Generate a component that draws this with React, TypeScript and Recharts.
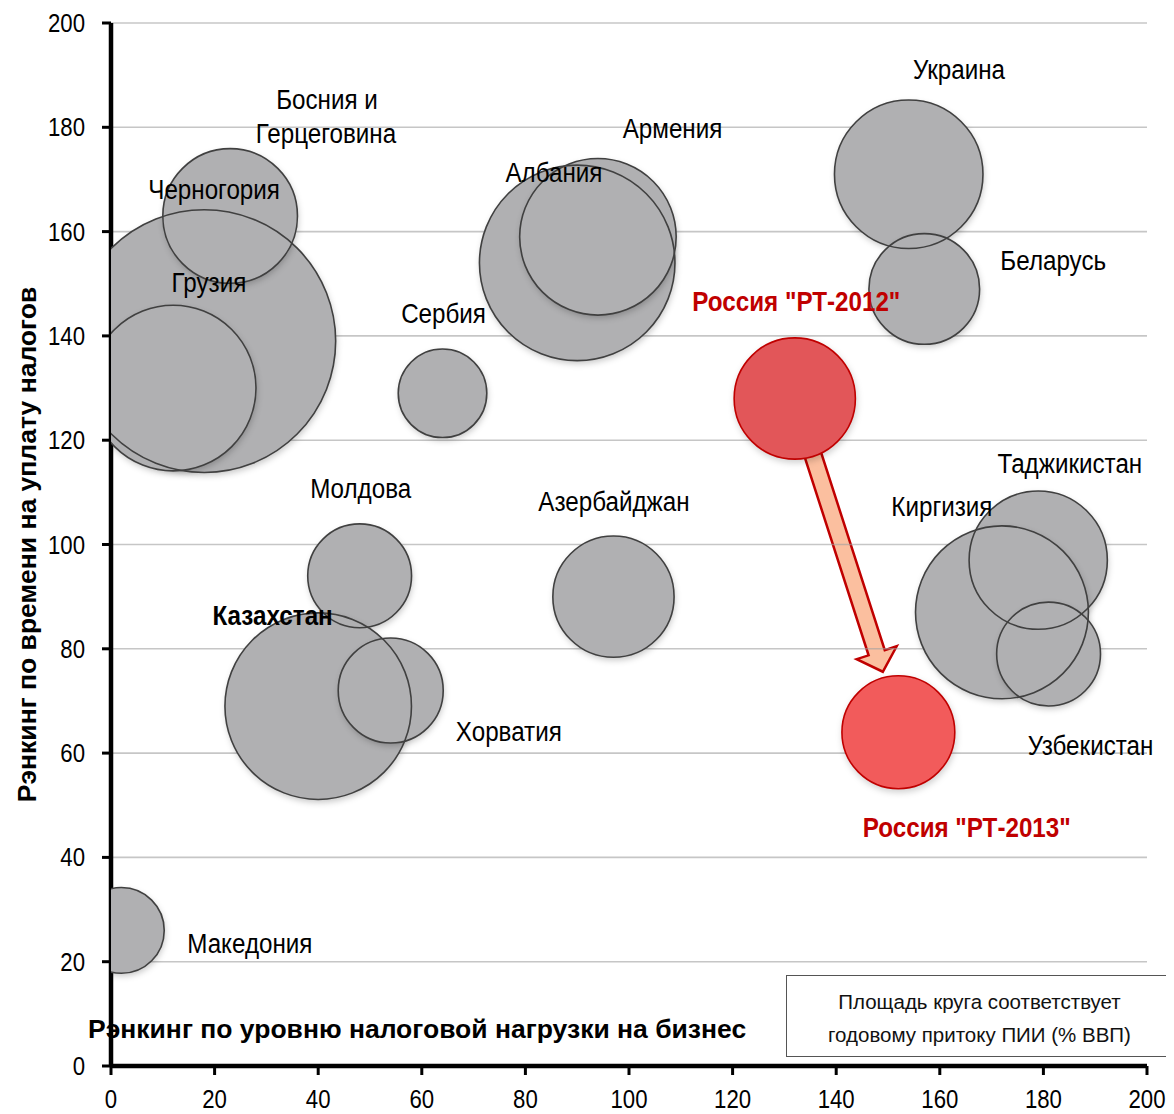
import React from 'react';
import {
  ScatterChart,
  Scatter,
  XAxis,
  YAxis,
  ZAxis,
  ReferenceDot,
  ReferenceLine,
} from 'recharts';

// ---------- data ----------
const countries = [
  'Черногория', 'Босния и Герцеговина', 'Грузия', 'Сербия', 'Албания', 'Армения',
  'Украина', 'Беларусь', 'Молдова', 'Азербайджан', 'Казахстан', 'Хорватия',
  'Македония', 'Таджикистан', 'Киргизия', 'Узбекистан',
];
const taxBurdenRank = [18, 23, 12, 64, 90, 94, 154, 157, 48, 97, 40, 54, 2, 179, 172, 181];
const taxTimeRank = [139, 163, 130, 129, 154, 159, 171, 149, 94, 90, 69, 72, 26, 97, 87, 79];
const fdiShare = [14.1, 3.7, 5.6, 1.6, 7.8, 5.0, 4.5, 2.5, 2.2, 3.0, 7.1, 2.25, 1.5, 3.9, 6.1, 2.2];

const russiaPeriods = ['Россия "РТ-2012"', 'Россия "РТ-2013"'];
const russiaTaxBurdenRank = [132, 152];
const russiaTaxTimeRank = [128, 64];
const russiaFdi = [3.0, 2.6];

const axisTicks = [0, 20, 40, 60, 80, 100, 120, 140, 160, 180, 200];
const gridValues = [20, 40, 60, 80, 100, 120, 140, 160, 180, 200];

// label texts and their anchor points (in data units)
const labelTexts = [
  'Босния и', 'Герцеговина', 'Черногория', 'Грузия', 'Сербия', 'Молдова', 'Албания',
  'Армения', 'Украина', 'Беларусь', 'Азербайджан', 'Киргизия', 'Таджикистан',
  'Узбекистан', 'Хорватия', 'Казахстан', 'Македония', 'Россия "РТ-2012"', 'Россия "РТ-2013"',
];
const labelX = [41.7, 41.5, 19.9, 18.9, 64.2, 48.2, 85.5, 108.4, 163.7, 181.9, 97.1, 160.4, 185.1, 189.1, 76.8, 31.2, 26.8, 132.3, 165.2];
const labelY = [185.3, 178.9, 168.2, 150.2, 144.4, 110.7, 171.4, 179.9, 191.1, 154.5, 108.3, 107.3, 115.6, 61.6, 64.2, 86.4, 23.6, 146.6, 45.8];

// arrow from РТ-2012 to РТ-2013 (data units)
const arrowFrom = { x: 132, y: 128 };
const arrowTo = { x: 149, y: 75.6 };

const xTitle = 'Рэнкинг по уровню налоговой нагрузки на бизнес';
const yTitle = 'Рэнкинг по времени на уплату налогов';
const noteLines = ['Площадь круга соответствует', 'годовому притоку ПИИ (% ВВП)'];

// ---------- derived ----------
const countryData = countries.map((name, i) => ({
  name,
  x: taxBurdenRank[i],
  y: taxTimeRank[i],
  z: fdiShare[i],
}));
const russiaData = russiaPeriods.map((name, i) => ({
  name,
  x: russiaTaxBurdenRank[i],
  y: russiaTaxTimeRank[i],
  z: russiaFdi[i],
}));

const FONT = '"Liberation Sans", Arial, sans-serif';

const radiusOf = (p: any) => {
  if (typeof p.size === 'number') return Math.sqrt(Math.max(p.size, 0) / Math.PI);
  if (typeof p.width === 'number') return p.width / 2;
  return 0;
};

const BubbleFill = (p: any) => {
  if (p.cx == null || p.cy == null) return null;
  return (
    <circle
      cx={p.cx}
      cy={p.cy}
      r={radiusOf(p)}
      fill="#b0b0b2"
      stroke="none"
      style={{ filter: 'drop-shadow(1px 3px 3px rgba(0,0,0,0.22))' }}
    />
  );
};

const BubbleOutline = (p: any) => {
  if (p.cx == null || p.cy == null) return null;
  return <circle cx={p.cx} cy={p.cy} r={radiusOf(p)} fill="none" stroke="#404040" strokeWidth={1.6} />;
};

const RussiaBubble = (p: any) => {
  if (p.cx == null || p.cy == null) return null;
  const isFirst = p.payload && p.payload.name === russiaPeriods[0];
  return (
    <circle
      cx={p.cx}
      cy={p.cy}
      r={radiusOf(p)}
      fill={isFirst ? '#e25659' : '#f25b5b'}
      stroke="#c00000"
      strokeWidth={1.6}
      style={{ filter: 'drop-shadow(1px 3px 3px rgba(0,0,0,0.18))' }}
    />
  );
};

const ArrowShape = (p: any) => {
  const { x1, y1, x2, y2 } = p;
  if ([x1, y1, x2, y2].some((v) => typeof v !== 'number')) return null;
  const dx = x2 - x1;
  const dy = y2 - y1;
  const len = Math.hypot(dx, dy);
  const ux = dx / len;
  const uy = dy / len;
  const nx = -uy;
  const ny = ux;
  const start = 57;
  const shaftHW = 8.5;
  const headHW = 21;
  const headLen = 20;
  const sx = x1 + ux * start;
  const sy = y1 + uy * start;
  const bx = x2 - ux * headLen;
  const by = y2 - uy * headLen;
  const pts = [
    [sx + nx * shaftHW, sy + ny * shaftHW],
    [bx + nx * shaftHW, by + ny * shaftHW],
    [bx + nx * headHW, by + ny * headHW],
    [x2, y2],
    [bx - nx * headHW, by - ny * headHW],
    [bx - nx * shaftHW, by - ny * shaftHW],
    [sx - nx * shaftHW, sy - ny * shaftHW],
  ];
  return (
    <polygon
      points={pts.map((q) => `${q[0]},${q[1]}`).join(' ')}
      fill="#fbbf9f"
      stroke="#c00000"
      strokeWidth={2.5}
      strokeLinejoin="miter"
    />
  );
};

// condensed text (the original uses a narrow sans face)
const NarrowText = ({ x, y, text, size, weight = 400, fill = '#000', sx = 0.88, anchor = 'middle', dy = '0.355em' }: any) => (
  <text
    transform={`translate(${x},${y}) scale(${sx},1)`}
    x={0}
    y={0}
    dy={dy}
    textAnchor={anchor}
    fontSize={size}
    fontWeight={weight}
    fill={fill}
    fontFamily={FONT}
  >
    {text}
  </text>
);

const XTick = (p: any) => {
  if (p.x == null || p.y == null) return null;
  return <NarrowText x={p.x} y={p.y} text={String(p.payload?.value)} size={25.5} sx={0.87} dy="0.71em" />;
};

const YTick = (p: any) => {
  if (p.x == null || p.y == null) return null;
  return <NarrowText x={p.x} y={p.y} text={String(p.payload?.value)} size={25.5} sx={0.87} anchor="end" />;
};

const XTitle = (props: any) => {
  const vb = props.viewBox || {};
  const x = (vb.x ?? 103) - 23;
  const y = (vb.y ?? 1058) - 28;
  return (
    <text x={x} y={y} fill="#000" fontSize={26.5} fontWeight={700} fontFamily={FONT} textAnchor="start">
      {xTitle}
    </text>
  );
};

export default function App() {
  return (
    <div style={{ position: 'relative', width: 1166, height: 1106 }}>
      <ScatterChart
        width={1166}
        height={1106}
        margin={{ top: 15, right: 27, bottom: 0, left: 0 }}
        style={{ fontFamily: FONT }}
      >
        <XAxis
          type="number"
          dataKey="x"
          domain={[0, 200]}
          ticks={axisTicks}
          interval={0}
          allowDataOverflow
          height={48}
          tickSize={9}
          tickMargin={15}
          axisLine={{ stroke: '#000', strokeWidth: 4.5 }}
          tickLine={{ stroke: '#000', strokeWidth: 3 }}
          tick={(p: any) => <XTick {...p} />}
          label={{ content: XTitle }}
        />
        <YAxis
          type="number"
          dataKey="y"
          domain={[0, 200]}
          ticks={axisTicks}
          interval={0}
          allowDataOverflow
          width={103}
          tickSize={9}
          tickMargin={17}
          axisLine={{ stroke: '#000', strokeWidth: 4.5 }}
          tickLine={{ stroke: '#000', strokeWidth: 3 }}
          tick={(p: any) => <YTick {...p} />}
          label={{
            value: yTitle,
            angle: -90,
            position: 'insideLeft',
            offset: 19,
            fill: '#000',
            fontSize: 26.5,
            fontWeight: 700,
            fontFamily: FONT,
            style: { textAnchor: 'middle' },
          }}
        />
        <ZAxis type="number" dataKey="z" domain={[0, 20]} range={[0, 20 * 3848.5]} />

        <Scatter data={countryData} shape={BubbleFill} isAnimationActive={false} />
        <Scatter data={countryData} shape={BubbleOutline} isAnimationActive={false} />

        <ReferenceLine segment={[arrowFrom, arrowTo]} shape={ArrowShape} />

        <Scatter data={russiaData} shape={RussiaBubble} isAnimationActive={false} />

        {gridValues.map((v) => (
          <ReferenceLine key={`g${v}`} y={v} stroke="#a0a0a0" strokeOpacity={0.6} strokeWidth={1.6} />
        ))}

        {labelTexts.map((t, i) => {
          const isRussia = t.startsWith('Россия');
          const isKz = t === 'Казахстан';
          return (
            <ReferenceDot
              key={t}
              x={labelX[i]}
              y={labelY[i]}
              r={0}
              shape={(p: any) => (
                <NarrowText
                  x={p.cx}
                  y={p.cy}
                  text={t}
                  size={27.5}
                  sx={0.88}
                  weight={isRussia || isKz ? 700 : 400}
                  fill={isRussia ? '#c00000' : '#000'}
                />
              )}
            />
          );
        })}
      </ScatterChart>

      <div
        style={{
          position: 'absolute',
          left: 778,
          top: 967,
          width: 387,
          height: 82,
          boxSizing: 'border-box',
          border: '1.5px solid #555',
          background: '#fff',
          display: 'flex',
          flexDirection: 'column',
          alignItems: 'center',
          justifyContent: 'center',
          fontFamily: FONT,
          fontSize: 20.5,
          lineHeight: '33px',
          color: '#111',
          paddingTop: 3,
        }}
      >
        {noteLines.map((l) => (
          <div key={l}>{l}</div>
        ))}
      </div>
    </div>
  );
}
